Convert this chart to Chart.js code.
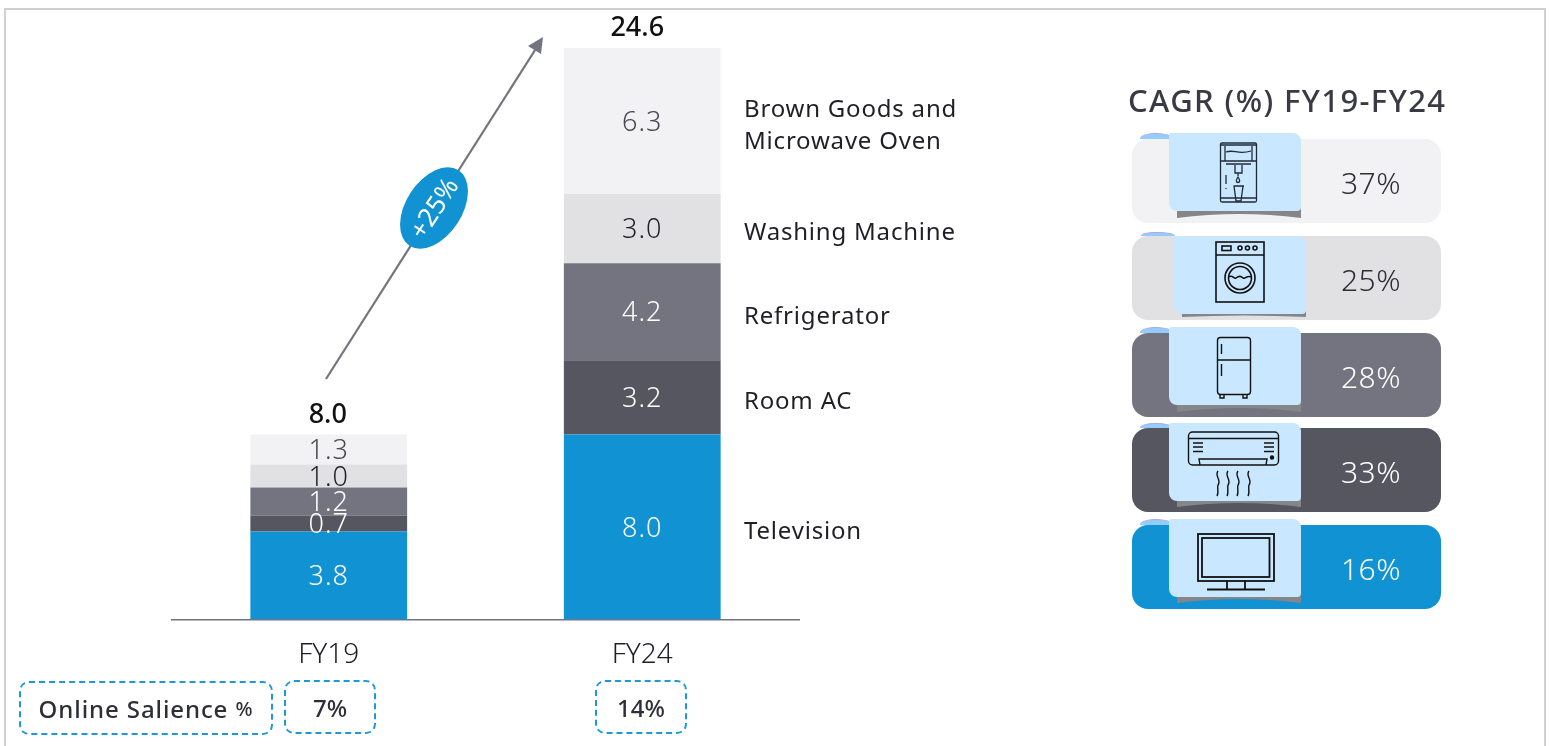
<!DOCTYPE html>
<html><head><meta charset="utf-8">
<script src="https://cdn.jsdelivr.net/npm/chart.js@4/dist/chart.umd.min.js"></script>
<style>
html,body{margin:0;padding:0;background:#fff;width:1550px;height:746px;overflow:hidden}
#wrap{position:relative;width:1550px;height:746px;font-family:"Noto Sans",sans-serif;color:#2e2e38}
#frame{position:absolute;left:4px;top:8px;width:1542px;height:760px;border:2px solid #d0d0d4;box-sizing:border-box}
canvas{position:absolute;left:0;top:0}
.row{position:absolute;left:1132px;width:309px;height:84px;border-radius:16px}
.pct{position:absolute;width:120px;left:1311px;text-align:center;font-size:30px;line-height:40px;font-weight:300;letter-spacing:.5px}
.card{position:absolute;width:132px;height:78px;background:#c9e8ff;border-radius:2px 8px 4px 8px}
.shadow{position:absolute;width:124px;background:#85868a}
.tab{position:absolute;width:34px;background:#93cdfb;border-radius:16px 20px 0 0 / 100% 100% 0 0;border-top:1px solid #b49fe8;box-sizing:border-box}
.dash{position:absolute;border:2px dashed #1d9ad6;border-radius:10px;box-sizing:border-box;display:flex;align-items:center;justify-content:center;font-size:24px;font-weight:500;color:#2e2e38}
svg{position:absolute;left:0;top:0;overflow:visible}
</style></head>
<body><div id="wrap">
<div id="frame"></div>
<canvas id="c" width="1550" height="746"></canvas>
<div id="panel"></div>
<svg width="1550" height="746" id="ov" fill="none" stroke="#1f1f27" stroke-width="1.4">
 <line x1="326" y1="379" x2="537" y2="47" stroke="#747480" stroke-width="2.2"/>
 <polygon points="543,37 541,54 528,46" fill="#747480" stroke="none"/>
 <g transform="translate(434 208) rotate(-57)">
  <ellipse rx="45" ry="28" fill="#1193d3" stroke="none"/>
  <text x="0" y="9" text-anchor="middle" fill="#fff" stroke="none" font-size="26" font-family="Noto Sans" font-weight="400">+25%</text>
 </g>
 <g stroke="#1f2a38" stroke-width="1.3">
  <rect x="1220.500" y="143" width="36" height="59" rx="1.500"/>
  <path d="M1225 146v15h27v-15M1220.500 145h36M1226 152c8-3 12 3 25-1M1220.500 161h36M1226 164h25M1235 165v8h7v-8M1238 173v3M1226 175v9M1226 188v1"/>
  <path d="M1238 177c-2 3-2.500 5 0 5.500c2.500-.5 2-2.500 0-5.500zM1233.500 186h10.500M1234 186l2 15h5l2-15M1220.500 198h36"/>
 </g>
 <g stroke="#111" stroke-width="1.600">
  <rect x="1216" y="242" width="48" height="60"/>
  <path d="M1216 255h48"/>
  <rect x="1222" y="246" width="9" height="4.500"/>
  <circle cx="1240" cy="248" r="2"/><circle cx="1247.500" cy="248" r="2"/><circle cx="1255" cy="248" r="2"/>
  <circle cx="1240" cy="278" r="15"/><circle cx="1240" cy="278" r="11.500"/>
  <path d="M1229 277c3.500-3 5 2.500 7 1c2.500-2 5-2 7 0c2 1.500 4-3 8-1"/>
 </g>
 <g stroke="#111" stroke-width="1.400">
  <rect x="1217.500" y="337.500" width="33" height="57" rx="3"/>
  <path d="M1217.500 360h33M1221.500 344v10M1221.500 364v12M1220 395v3h4v-3M1243 395v3h4v-3"/>
 </g>
 <g stroke="#111" stroke-width="1.400">
  <rect x="1188.500" y="432" width="90" height="33" rx="4"/>
  <path d="M1188.500 438.500h90M1193 443h10M1193 447h10M1193 451.500h10M1264 443h10M1264 447h10M1264 451.500h10M1200 465l-1-6h68l-1 6"/>
  <circle cx="1272" cy="457.500" r="1.500" fill="#111"/>
  <path d="M1218 471c-4 5 4 9 0 14c-1 3 1 8-1 11M1228 471c-4 5 4 9 0 14c-1 3 1 8-1 11M1238 471c-4 5 4 9 0 14c-1 3 1 8-1 11M1249 471c-4 5 4 9 0 14c-1 3 1 8-1 11"/>
 </g>
 <g stroke="#111" stroke-width="1.800">
  <rect x="1198" y="534" width="76" height="47"/>
  <rect x="1202" y="538" width="67.500" height="39"/>
  <path d="M1227 581v8M1245 581v8M1207 589.500h58"/>
 </g>
</svg>
</div>
<script>
const categories = ['FY19','FY24'];
const seriesNames = ['Television','Room AC','Refrigerator','Washing Machine','Brown Goods and Microwave Oven'];
const television = [3.8, 8.0];
const roomAC = [0.7, 3.2];
const refrigerator = [1.2, 4.2];
const washingMachine = [1.0, 3.0];
const brownGoods = [1.3, 6.3];
const totals = [8.0, 24.6];
const salience = ['7%','14%'];
const cagrLabels = ['37%','25%','28%','33%','16%'];
const cagrTitle = 'CAGR (%) FY19-FY24';

const colors = ['#1193d3','#565660','#747480','#e1e1e4','#f2f2f4'];
const textColors = ['#ffffff','#ffffff','#ffffff','#1f1f27','#4a4a54'];
const FONT = '"Noto Sans", sans-serif';
const seriesValues = [television, roomAC, refrigerator, washingMachine, brownGoods];
const sideLabelLines = {4:['Brown Goods and','Microwave Oven']};
const stackTop = seriesValues.reduce((a,s)=>a+s[1],0);
const totalShift = [[-1,-19.5],[-5,-22]];

const labelPlugin = {
  id:'labels',
  afterDatasetsDraw(chart){
    const ctx = chart.ctx;
    ctx.save();
    ctx.textAlign='center'; ctx.textBaseline='middle';
    chart.data.datasets.forEach((ds,i)=>{
      const meta = chart.getDatasetMeta(i);
      meta.data.forEach((bar,j)=>{
        const cy = (bar.y+bar.base)/2;
        ctx.font='300 27px '+FONT;
        ctx.fillStyle=textColors[i];
        ctx.letterSpacing='1px';
        ctx.fillText(ds.data[j].toFixed(1), bar.x, cy+2);
      });
      const bar = meta.data[1];
      const cy=(bar.y+bar.base)/2+5;
      ctx.save();
      ctx.textAlign='left'; ctx.font='400 24px '+FONT; ctx.fillStyle='#1f1f27'; ctx.letterSpacing='.8px';
      const lines = sideLabelLines[i]||[ds.label];
      lines.forEach((t,k)=>ctx.fillText(t, 744, cy+(k-(lines.length-1)/2)*32));
      ctx.restore();
    });
    const sc = chart.scales.y, xs = chart.scales.x;
    ctx.font='500 27px '+FONT; ctx.fillStyle='#111'; ctx.letterSpacing='0px';
    totals.forEach((t,j)=>ctx.fillText(t.toFixed(1), xs.getPixelForValue(j)+totalShift[j][0], sc.getPixelForValue(t)+totalShift[j][1]));
    ctx.restore();
  }
};

new Chart(document.getElementById('c'),{
  type:'bar',
  data:{labels:categories,datasets:seriesValues.map((d,i)=>({label:seriesNames[i],data:d,backgroundColor:colors[i],borderWidth:0}))},
  options:{
    responsive:false,animation:false,
    layout:{padding:{left:172,right:751,top:48,bottom:46.5}},
    plugins:{legend:{display:false},tooltip:{enabled:false}},
    datasets:{bar:{categoryPercentage:.5,barPercentage:1}},
    scales:{
      x:{stacked:true,grid:{display:false,drawTicks:false},border:{color:'#747480',width:1.5},
         ticks:{color:'#1f1f27',font:{family:FONT,size:28,weight:'300'},padding:19,maxRotation:0},
         afterFit(s){s.height=80}},
      y:{stacked:true,display:false,min:0,max:stackTop}
    }
  },
  plugins:[labelPlugin]
});

const panel=document.getElementById('panel');
function add(cls,style,text){const d=document.createElement('div');d.className=cls;d.style.cssText=style;if(text!=null)d.textContent=text;panel.appendChild(d);return d;}
const rowTops=[139,236,333,428,525], cardLeft=[1169,1174,1169,1169,1169], cardTop=[133,236,327,423,519], shadowH=[7,3,7,6,6];
const tabLeft=[1140,1141,1140,1140,1140], tabH=[6,4,6,5,6];
const rowBg=['#f2f2f4','#e1e1e4','#747480','#565660','#1193d3'], pctColor=['#2e2e38','#2e2e38','#fff','#fff','#fff'];
add('', 'position:absolute;left:1128px;top:80px;font-size:31px;font-weight:500;color:#3a3a44;line-height:40px;white-space:nowrap;letter-spacing:1.4px', cagrTitle);
cagrLabels.forEach((t,i)=>{
  add('row',`top:${rowTops[i]}px;background:${rowBg[i]}`);
  const h=shadowH[i]+7, mid=h-(shadowH[i]>3?8:3);
  add('shadow',`left:${cardLeft[i]+8}px;top:${cardTop[i]+71}px;height:${h}px;clip-path:path('M0 0H124V${h}Q62 ${mid} 0 ${h}Z')`);
  add('tab',`left:${tabLeft[i]}px;top:${rowTops[i]-tabH[i]}px;height:${tabH[i]}px`);
  add('card',`left:${cardLeft[i]}px;top:${cardTop[i]}px`);
  add('pct',`top:${rowTops[i]+24}px;color:${pctColor[i]}`,t);
});
const sal=add('dash','left:19px;top:681px;width:254px;height:54px;letter-spacing:.9px');
sal.innerHTML='Online Salience&nbsp;<span style="font-size:20px">%</span>';
add('dash','left:284px;top:680px;width:92px;height:54px',salience[0]);
add('dash','left:595px;top:680px;width:92px;height:54px',salience[1]);
const ov=document.getElementById('ov');ov.parentNode.appendChild(ov);
</script>
</body></html>
